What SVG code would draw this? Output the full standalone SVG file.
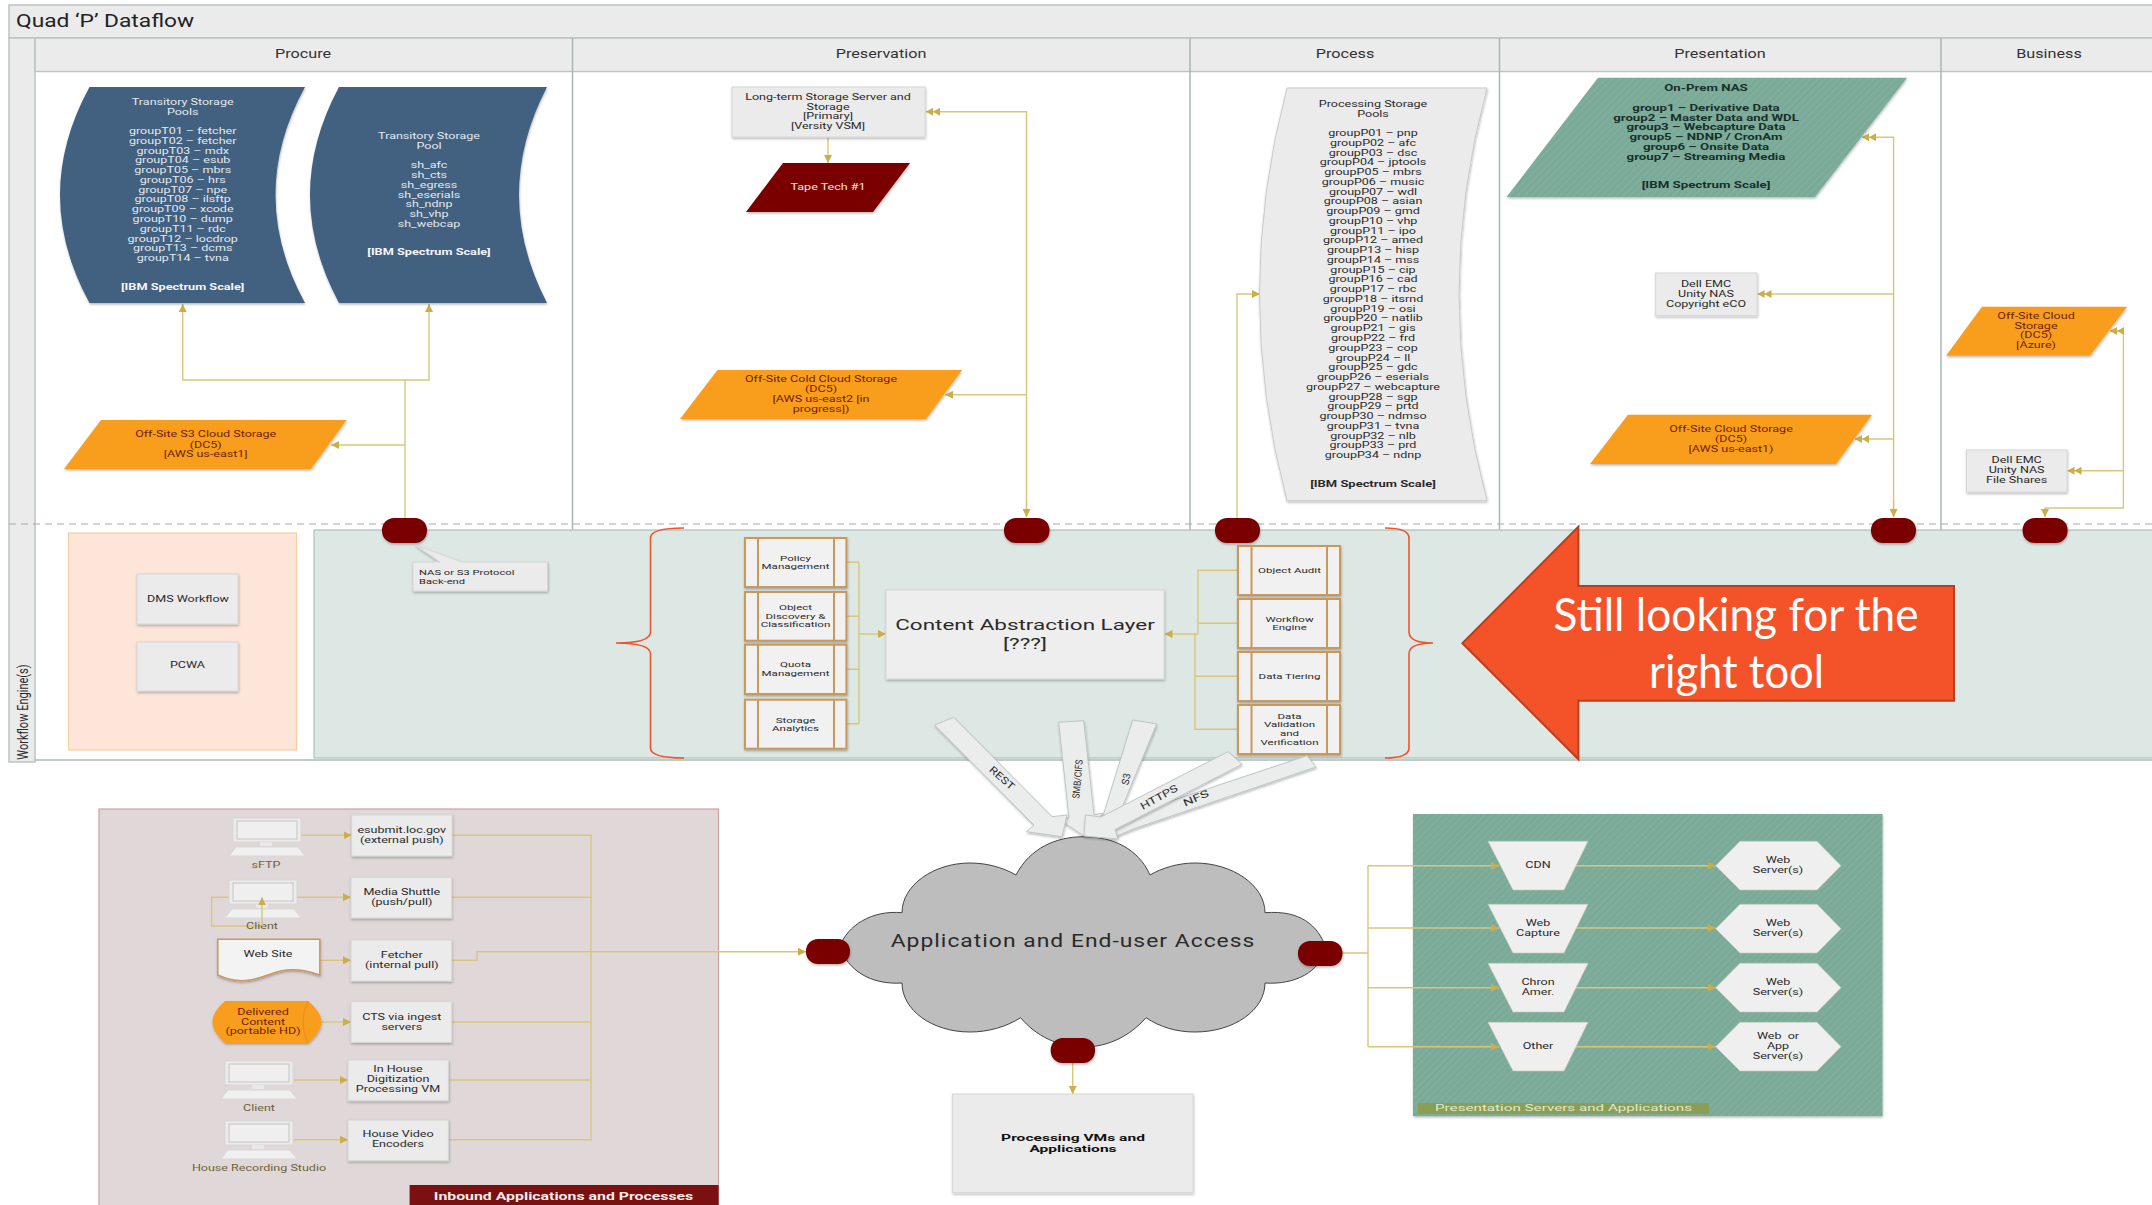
<svg xmlns="http://www.w3.org/2000/svg" width="2152" height="1205" viewBox="0 0 2152 1205">
<style>
text{font-family:Roboto,"Open Sans","Liberation Sans",sans-serif;text-anchor:middle;dominant-baseline:central;font-size:8.2px;fill:#2a2a2a}
.ss{font-size:7px}
.l{text-anchor:start}
.b{font-weight:700}
.w{fill:#e4e9ee}
.wb{fill:#f4f6f8;font-weight:700}
.o{fill:#6e1f08}
.h{font-size:12px;fill:#333}
.band{fill:#ebebeb;stroke:#bcc4c4;stroke-width:1.5}
.div{stroke:#aab6b6;stroke-width:1.5;fill:none}
.box{fill:#ebebeb;stroke:#d6d6d6;stroke-width:1;filter:url(#sh)}
.sm{fill:#f99d1f;filter:url(#sh)}
.pill{fill:#7a0000;filter:url(#sh)}
.blue{fill:#42617f;filter:url(#sh)}
.pr{fill:#f1f1f1;stroke:#c9985a;stroke-width:2;filter:url(#sh)}
.prl{stroke:#c9985a;stroke-width:2;fill:none}
.c{fill:none;stroke:#d9c67a;stroke-width:1.4}
.ca{fill:none;stroke:#d9c67a;stroke-width:1.4;marker-end:url(#a)}
.cd{fill:none;stroke:#d9c67a;stroke-width:1.4;marker-end:url(#d)}
.brace{fill:none;stroke:#f0542d;stroke-width:1.6}
.blk{fill:#ebeded;stroke:#bfc5c5;stroke-width:1;filter:url(#sh)}
.sv{fill:#efefef;stroke:#c9c9b9;stroke-width:.6}
.lab{fill:#6d6238}
.p{font-size:10px}
</style>
<defs>
<filter id="sh" x="-10%" y="-10%" width="125%" height="125%"><feDropShadow dx="0.5" dy="1.5" stdDeviation="1" flood-color="#000" flood-opacity=".28"/></filter>
<marker id="a" markerUnits="userSpaceOnUse" markerWidth="9" markerHeight="8" refX="8" refY="4" orient="auto-start-reverse"><path d="M0 0L8 4L0 8Z" fill="#c9ae4a"/></marker>
<marker id="d" markerUnits="userSpaceOnUse" markerWidth="15" markerHeight="8" refX="14" refY="4" orient="auto-start-reverse"><path d="M0 0L7 4L0 8ZM7 0L14 4L7 8Z" fill="#c9ae4a"/></marker>
<pattern id="st" width="5" height="5" patternUnits="userSpaceOnUse" patternTransform="rotate(45)"><rect width="5" height="5" fill="#7aa998"/><rect width="2.400" height="5" fill="#7fae9d"/></pattern>
<g id="pc"><rect x="4" y="0" width="68" height="24" fill="#ececec" stroke="#d6d6d6"/><rect x="8" y="3" width="60" height="18" fill="#efefef" stroke="#c4c4c4"/><rect x="31" y="24" width="12" height="4" fill="#e8e8e8"/><path d="M7 29H69L76 38H0Z" fill="#f0f0f0" stroke="#d8d8d8"/></g>
</defs>
<rect width="2152" height="1205" fill="#fff"/>

<g id="swimlanes">
<rect class="band" x="9" y="5" width="2150" height="33"/>
<rect class="band" x="9" y="38" width="26" height="724"/>
<rect class="band" x="35" y="38" width="2120" height="33.500"/>
<path class="div" d="M572.500 38V530M1190 38V530M1499.500 38V530M1941 38V530"/>
<path d="M9 524H2152" fill="none" stroke="#a9a9a9" stroke-width="1" stroke-dasharray="7 5"/>
<text class="l" transform="translate(16 0) scale(1.3 1)" y="21" style="font-size:17.500px;fill:#222">Quad ‘P’ Dataflow</text>
<text class="h" transform="translate(303 0) scale(1.35 1)" y="53.500">Procure</text>
<text class="h" transform="translate(881 0) scale(1.35 1)" y="53.500">Preservation</text>
<text class="h" transform="translate(1345 0) scale(1.35 1)" y="53.500">Process</text>
<text class="h" transform="translate(1720 0) scale(1.35 1)" y="53.500">Presentation</text>
<text class="h" transform="translate(2049 0) scale(1.35 1)" y="53.500">Business</text>
<text transform="translate(23 712) rotate(-90) scale(.92 1.25)" style="font-size:12px">Workflow Engine(s)</text>
</g>

<g id="workflow-panels">
<rect x="68.500" y="533" width="228" height="217" fill="#fde6d9" stroke="#f3cfa0" stroke-width="1.200"/>
<rect x="314" y="530" width="1840" height="228" fill="#dde7e3" stroke="#aebfb9" stroke-width="1.200"/>
<path d="M35 760H2152" stroke="#a9bdb6" stroke-width="1.500" fill="none"/>
</g>

<g id="inbound-panel">
<rect x="99" y="809" width="619.500" height="400" fill="#e0d8d8" stroke="#cf9f9f" stroke-width="1.200"/>
<rect x="409.600" y="1185" width="309" height="20" fill="#7a1010"/>
<text class="b" transform="translate(563.500 0) scale(1.51 1)" y="1196" style="font-size:10.500px;fill:#f3ecec">Inbound Applications and Processes</text>
</g>

<g id="presentation-panel">
<rect x="1413" y="814" width="469.500" height="302" fill="url(#st)" filter="url(#sh)"/>
<rect x="1418" y="1103" width="291" height="11" fill="#8a9f55"/>
<text class="l" transform="translate(1435 0) scale(1.6 1)" y="1108" style="font-size:9.500px;fill:#e0e8cb">Presentation Servers and Applications</text>
</g>

<g id="connectors">
<path class="ca" d="M405 518V380H182.700V304"/>
<path class="ca" d="M405 380H429V304"/>
<path class="ca" d="M405 445H331"/>
<path class="cd" d="M1026.500 517V111.700H926"/>
<path d="M1026.500 500V517" class="ca"/>
<path class="ca" d="M1026.500 394.700H945"/>
<path class="ca" d="M828 137V163"/>
<path class="ca" d="M1237 518V294H1260"/>
<path class="cd" d="M1893.600 517V137.300H1862"/>
<path class="ca" d="M1893.600 500V517"/>
<path class="cd" d="M1893.600 294H1757.500"/>
<path class="cd" d="M1893.600 439H1855"/>
<path class="cd" d="M2045 517V508H2123.400V331H2110"/>
<path class="ca" d="M2045 510V517"/>
<path class="cd" d="M2123.400 470.700H2067.500"/>
<path class="c" d="M846.500 562.300H859M846.500 616.300H859M846.500 669.300H859M846.500 723.700H859M859 562.300V723.700"/>
<path class="ca" d="M859 634H886"/>
<path class="c" d="M1238 570.300H1198V634M1238 623.300H1198M1238 676.300H1195M1238 729.300H1195V634"/>
<path class="ca" d="M1198 634H1164.500"/>
<path class="ca" d="M300 835.300H351.600"/>
<path class="ca" d="M296.500 897.300H351"/>
<path class="ca" d="M320 960.300H351"/>
<path class="ca" d="M321 1022H351"/>
<path class="ca" d="M293 1080H348"/>
<path class="ca" d="M293 1139.700H348"/>
<path class="c" d="M452 835.300H591V1139.700H448.400M451.600 897.300H591M451.600 1022H591M448.400 1080H591"/>
<path class="ca" d="M451.600 960.300H477V951.700H806"/>
<path class="c" d="M262 926H211.600V897.300H262"/>
<path class="ca" d="M1072.700 1063V1094"/>
<path class="c" d="M1342 953H1368M1368 865.700V1046.700"/>
<path class="ca" d="M1368 865.700H1499"/>
<path class="ca" d="M1368 928H1499"/>
<path class="ca" d="M1368 987.700H1499"/>
<path class="ca" d="M1368 1046.700H1499"/>
<path class="ca" d="M1575 865.700H1715.700"/>
<path class="ca" d="M1575 928H1715.700"/>
<path class="ca" d="M1575 987.700H1715.700"/>
<path class="ca" d="M1575 1046.700H1715.700"/>
</g>

<g id="pool-t1"><path class="blue" d="M89.500 87H305Q246 195 305 303H89.500Q30.500 195 89.500 87Z"/>
<text class="w" transform="translate(182.700 0) scale(1.53 1)"><tspan x="0" y="102">Transitory Storage</tspan><tspan x="0" y="111.500">Pools</tspan><tspan x="0" y="131">groupT01 – fetcher</tspan><tspan x="0" y="140.800">groupT02 – fetcher</tspan><tspan x="0" y="150.500">groupT03 – mdx</tspan><tspan x="0" y="160.300">groupT04 – esub</tspan><tspan x="0" y="170.100">groupT05 – mbrs</tspan><tspan x="0" y="179.900">groupT06 – hrs</tspan><tspan x="0" y="189.600">groupT07 – npe</tspan><tspan x="0" y="199.400">groupT08 – ilsftp</tspan><tspan x="0" y="209.200">groupT09 – xcode</tspan><tspan x="0" y="219">groupT10 – dump</tspan><tspan x="0" y="228.700">groupT11 – rdc</tspan><tspan x="0" y="238.500">groupT12 – locdrop</tspan><tspan x="0" y="248.300">groupT13 – dcms</tspan><tspan x="0" y="258">groupT14 – tvna</tspan></text>
<text class="wb" transform="translate(182.700 0) scale(1.55 1)" y="287">[IBM Spectrum Scale]</text></g>

<g id="pool-t2"><path class="blue" d="M339 87H547Q491 195 547 303H339Q281 195 339 87Z"/>
<text class="w" transform="translate(429 0) scale(1.53 1)"><tspan x="0" y="136">Transitory Storage</tspan><tspan x="0" y="145.500">Pool</tspan><tspan x="0" y="165.400">sh_afc</tspan><tspan x="0" y="175">sh_cts</tspan><tspan x="0" y="185">sh_egress</tspan><tspan x="0" y="194.600">sh_eserials</tspan><tspan x="0" y="204.300">sh_ndnp</tspan><tspan x="0" y="214.200">sh_vhp</tspan><tspan x="0" y="224">sh_webcap</tspan></text>
<text class="wb" transform="translate(429 0) scale(1.55 1)" y="252.500">[IBM Spectrum Scale]</text></g>

<g id="s3-cloud"><path class="sm" d="M101 420H346.600L311 469H64Z"/>
<text class="o" transform="translate(205.700 0) scale(1.53 1)"><tspan x="0" y="434">Off-Site S3 Cloud Storage</tspan><tspan x="0" y="444.600">(DC5)</tspan><tspan x="0" y="454">[AWS us-east1]</tspan></text></g>

<g id="long-term"><rect class="box" x="732" y="87" width="193" height="50"/>
<text transform="translate(828 0) scale(1.53 1)"><tspan x="0" y="97">Long-term Storage Server and</tspan><tspan x="0" y="106.500">Storage</tspan><tspan x="0" y="116">[Primary]</tspan><tspan x="0" y="126">[Versity VSM]</tspan></text></g>

<g id="tape"><path d="M783 163H910L873 212H746Z" fill="#7a0000" filter="url(#sh)"/><text transform="translate(828 0) scale(1.53 1)" y="187" style="fill:#f0e4e4">Tape Tech #1</text></g>

<g id="cold-cloud"><path class="sm" d="M717.500 370H962L926 419H680Z"/>
<text class="o" transform="translate(821 0) scale(1.53 1)"><tspan x="0" y="379">Off-Site Cold Cloud Storage</tspan><tspan x="0" y="389">(DC5)</tspan><tspan x="0" y="399">[AWS us-east2 [in</tspan><tspan x="0" y="409">progress])</tspan></text></g>

<g id="pool-p"><path d="M1287 88H1487Q1431 294 1487 500.700H1287Q1232 294 1287 88Z" fill="#ebebeb" stroke="#cacaca" filter="url(#sh)"/>
<text transform="translate(1373 0) scale(1.53 1)"><tspan x="0" y="103.700">Processing Storage</tspan><tspan x="0" y="113.700">Pools</tspan><tspan x="0" y="133">groupP01 – pnp</tspan><tspan x="0" y="142.800">groupP02 – afc</tspan><tspan x="0" y="152.500">groupP03 – dsc</tspan><tspan x="0" y="162.300">groupP04 – jptools</tspan><tspan x="0" y="172">groupP05 – mbrs</tspan><tspan x="0" y="181.800">groupP06 – music</tspan><tspan x="0" y="191.600">groupP07 – wdl</tspan><tspan x="0" y="201.300">groupP08 – asian</tspan><tspan x="0" y="211.100">groupP09 – gmd</tspan><tspan x="0" y="220.800">groupP10 – vhp</tspan><tspan x="0" y="230.600">groupP11 – ipo</tspan><tspan x="0" y="240.400">groupP12 – amed</tspan><tspan x="0" y="250.100">groupP13 – hisp</tspan><tspan x="0" y="259.900">groupP14 – mss</tspan><tspan x="0" y="269.600">groupP15 – cip</tspan><tspan x="0" y="279.400">groupP16 – cad</tspan><tspan x="0" y="289.200">groupP17 – rbc</tspan><tspan x="0" y="298.900">groupP18 – itsrnd</tspan><tspan x="0" y="308.700">groupP19 – osi</tspan><tspan x="0" y="318.400">groupP20 – natlib</tspan><tspan x="0" y="328.200">groupP21 – gis</tspan><tspan x="0" y="338">groupP22 – frd</tspan><tspan x="0" y="347.700">groupP23 – cop</tspan><tspan x="0" y="357.500">groupP24 – ll</tspan><tspan x="0" y="367.200">groupP25 – gdc</tspan><tspan x="0" y="377">groupP26 – eserials</tspan><tspan x="0" y="386.800">groupP27 – webcapture</tspan><tspan x="0" y="396.500">groupP28 – sgp</tspan><tspan x="0" y="406.300">groupP29 – prtd</tspan><tspan x="0" y="416">groupP30 – ndmso</tspan><tspan x="0" y="425.800">groupP31 – tvna</tspan><tspan x="0" y="435.600">groupP32 – nlb</tspan><tspan x="0" y="445.300">groupP33 – prd</tspan><tspan x="0" y="455">groupP34 – ndnp</tspan></text>
<text class="b" transform="translate(1373 0) scale(1.58 1)" y="484">[IBM Spectrum Scale]</text></g>

<g id="on-prem-nas"><path d="M1598 77.700H1907L1815 197H1506.600Z" fill="url(#st)" filter="url(#sh)"/>
<text class="b" transform="translate(1706 0) scale(1.62 1)" style="fill:#18302a"><tspan x="0" y="88">On-Prem NAS</tspan><tspan x="0" y="107.700">group1 – Derivative Data</tspan><tspan x="0" y="117.700">group2 – Master Data and WDL</tspan><tspan x="0" y="127.300">group3 – Webcapture Data</tspan><tspan x="0" y="137.300">group5 – NDNP / CronAm</tspan><tspan x="0" y="147">group6 – Onsite Data</tspan><tspan x="0" y="156.700">group7 – Streaming Media</tspan><tspan x="0" y="185.300">[IBM Spectrum Scale]</tspan></text></g>

<g id="dell-eco"><rect class="box" x="1655.700" y="273" width="101.300" height="42.700"/>
<text transform="translate(1706 0) scale(1.53 1)"><tspan x="0" y="284">Dell EMC</tspan><tspan x="0" y="294">Unity NAS</tspan><tspan x="0" y="304">Copyright eCO</tspan></text></g>

<g id="aws-cloud"><path class="sm" d="M1628 414.700H1872L1836 464H1590Z"/>
<text class="o" transform="translate(1731 0) scale(1.53 1)"><tspan x="0" y="429">Off-Site Cloud Storage</tspan><tspan x="0" y="438.500">(DC5)</tspan><tspan x="0" y="448.700">[AWS us-east1)</tspan></text></g>

<g id="azure-cloud"><path class="sm" d="M1982 306.700H2127L2090 355.700H1946Z"/>
<text class="o" transform="translate(2036 0) scale(1.53 1)"><tspan x="0" y="315.700">Off-Site Cloud</tspan><tspan x="0" y="326">Storage</tspan><tspan x="0" y="335.300">(DC5)</tspan><tspan x="0" y="345">[Azure)</tspan></text></g>

<g id="dell-shares"><rect class="box" x="1966.500" y="450" width="100.500" height="42"/>
<text transform="translate(2016.600 0) scale(1.53 1)"><tspan x="0" y="460">Dell EMC</tspan><tspan x="0" y="470.300">Unity NAS</tspan><tspan x="0" y="480">File Shares</tspan></text></g>

<g id="pills">
<rect class="pill" x="382" y="518" width="45" height="25" rx="12"/>
<rect class="pill" x="1004" y="518" width="45.500" height="25" rx="12"/>
<rect class="pill" x="1215" y="518" width="45" height="25" rx="12"/>
<rect class="pill" x="1871" y="518" width="45" height="25" rx="12"/>
<rect class="pill" x="2022.600" y="518" width="45" height="25" rx="12"/>
</g>

<g id="callout"><path d="M415 545L462 562H547.500V591H413V562H440Z" fill="#ebebeb" stroke="#d6d6d6" filter="url(#sh)"/>
<text class="l ss" transform="translate(419 0) scale(1.6 1)"><tspan x="0" y="572.300">NAS or S3 Protocol</tspan><tspan x="0" y="580.700">Back-end</tspan></text></g>

<g id="dms"><rect class="box" x="137" y="574" width="101" height="50"/><text transform="translate(188 0) scale(1.53 1)" y="599">DMS Workflow</text></g>
<g id="pcwa"><rect class="box" x="137" y="642" width="101" height="49"/><text transform="translate(187.500 0) scale(1.53 1)" y="665">PCWA</text></g>

<g id="braces">
<path class="brace" d="M684 528Q650.500 528 650.500 538V632Q650.500 643 616 643Q650.500 643 650.500 654V748Q650.500 758 684 758"/>
<path class="brace" d="M1385 528Q1409 528 1409 538V632Q1409 643 1433 643Q1409 643 1409 654V748Q1409 758 1385 758"/>
</g>

<g id="policy"><rect class="pr" x="745" y="538" width="101.400" height="49"/><path class="prl" d="M758 538V587M834 538V587"/><text class="ss" transform="translate(795.500 0) scale(1.65 1)"><tspan x="0" y="558">Policy</tspan><tspan x="0" y="566.300">Management</tspan></text></g>
<g id="discovery"><rect class="pr" x="745" y="592" width="101.400" height="48.700"/><path class="prl" d="M758 592V640.700M834 592V640.700"/><text class="ss" transform="translate(795.500 0) scale(1.65 1)"><tspan x="0" y="606.700">Object</tspan><tspan x="0" y="615.700">Discovery &amp;</tspan><tspan x="0" y="624.300">Classification</tspan></text></g>
<g id="quota"><rect class="pr" x="745" y="644.700" width="101.400" height="49.300"/><path class="prl" d="M758 644.700V694M834 644.700V694"/><text class="ss" transform="translate(795.500 0) scale(1.65 1)"><tspan x="0" y="664.300">Quota</tspan><tspan x="0" y="672.700">Management</tspan></text></g>
<g id="analytics"><rect class="pr" x="745" y="699.700" width="101.400" height="49"/><path class="prl" d="M758 699.700V748.700M834 699.700V748.700"/><text class="ss" transform="translate(795.500 0) scale(1.65 1)"><tspan x="0" y="719.700">Storage</tspan><tspan x="0" y="727.700">Analytics</tspan></text></g>

<g id="audit"><rect class="pr" x="1238" y="546" width="102" height="49"/><path class="prl" d="M1251.500 546V595M1327 546V595"/><text class="ss" transform="translate(1289.500 0) scale(1.65 1)" y="570.300">Object Audit</text></g>
<g id="wfengine"><rect class="pr" x="1238" y="599" width="102" height="49"/><path class="prl" d="M1251.500 599V648M1327 599V648"/><text class="ss" transform="translate(1289.500 0) scale(1.65 1)"><tspan x="0" y="619">Workflow</tspan><tspan x="0" y="627.300">Engine</tspan></text></g>
<g id="tiering"><rect class="pr" x="1238" y="652" width="102" height="49"/><path class="prl" d="M1251.500 652V701M1327 652V701"/><text class="ss" transform="translate(1289.500 0) scale(1.65 1)" y="676">Data Tiering</text></g>
<g id="validation"><rect class="pr" x="1238" y="705" width="102" height="49"/><path class="prl" d="M1251.500 705V754M1327 705V754"/><text class="ss" transform="translate(1289.500 0) scale(1.65 1)"><tspan x="0" y="716">Data</tspan><tspan x="0" y="724.300">Validation</tspan><tspan x="0" y="733.300">and</tspan><tspan x="0" y="742">Verification</tspan></text></g>

<g id="cal"><rect class="box" x="886" y="590" width="278" height="89" style="fill:#eeeeee"/>
<text transform="translate(1025 0) scale(1.45 1)" style="font-size:15.500px"><tspan x="0" y="624.500">Content Abstraction Layer</tspan><tspan x="0" y="643">[???]</tspan></text></g>

<g id="big-arrow"><path d="M1462.400 643.300L1578.400 526.700V586H1954V700.700H1578.400V759.300Z" fill="#f4532a" stroke="#b83f1e" stroke-width="2"/>
<text x="1736" y="630.500" textLength="365" lengthAdjust="spacingAndGlyphs" style="font-family:Lato,'Open Sans',sans-serif;font-size:46px;fill:#fff;dominant-baseline:alphabetic">Still looking for the</text>
<text x="1736.600" y="688" textLength="175" lengthAdjust="spacingAndGlyphs" style="font-family:Lato,'Open Sans',sans-serif;font-size:46px;fill:#fff;dominant-baseline:alphabetic">right tool</text></g>

<g id="cloud"><path d="M1016 875C1030 848 1056 836.700 1084 836.700C1112 836.700 1138 848 1150 875C1162 868 1178 863 1195 863C1232 863 1265 885 1265 912.700C1300 910 1318 925 1326 948C1320 972 1295 985 1265 983C1265 1010 1234 1032 1195 1032C1176 1032 1160 1027 1146 1017.700C1130 1036 1108 1047 1084 1047C1058 1047 1036 1036 1020.600 1017.700C1006 1027 988 1032 970 1032C932 1032 902 1010 902 983C870 985 848 970 839.500 946.700C848 925 872 910 902 912.700C902 885 934 863 970 863C986 863 1002 867 1016 875Z" fill="#bdbdbd" stroke="#444" stroke-width="1"/>
<text transform="translate(1073 0) scale(1.27 1)" y="941" style="font-size:18px;letter-spacing:.8px">Application and End-user Access</text></g>

<g id="cloud-pills">
<rect class="pill" x="806" y="939" width="44" height="25" rx="12"/>
<rect class="pill" x="1298" y="941" width="44.500" height="25" rx="12"/>
<rect class="pill" x="1050.700" y="1038" width="44.300" height="25" rx="12"/>
</g>

<g id="protocol-arrows">
<polygon class="blk" points="1132.700,720 1156.600,724 1121,810 1112,812 1090,836 1096,814 1103,816"/>
<polygon class="blk" points="1058.700,722.300 1083.700,720.700 1094,815 1103,813 1084,836 1060,820 1069,818"/>
<polygon class="blk" points="934.700,725 953.600,717.300 1052,816.700 1067,815 1062,836.700 1026.500,831.700 1034,825"/>
<polygon class="blk" points="1307,755.700 1316,767 1139,827 1131,830 1112,838 1118,821 1138,812"/>
<polygon class="blk" points="1228,751.700 1242,764.300 1115,829.500 1118,839 1084,836 1085.500,815 1101,817"/>
<text class="p" transform="translate(1002 778) rotate(42)" textLength="30" lengthAdjust="spacingAndGlyphs">REST</text>
<text class="p" transform="translate(1077.500 779) rotate(-85)" textLength="39" lengthAdjust="spacingAndGlyphs">SMB/CIFS</text>
<text class="p" transform="translate(1126 779) rotate(-78)">S3</text>
<text class="p" transform="translate(1159 797) rotate(-29)" textLength="41" lengthAdjust="spacingAndGlyphs">HTTPS</text>
<text class="p" transform="translate(1196 798) rotate(-24)" textLength="27" lengthAdjust="spacingAndGlyphs">NFS</text>
</g>

<g id="processing-vms"><rect class="box" x="952.600" y="1094" width="240.400" height="98.700"/>
<text class="b" transform="translate(1073 0) scale(1.73 1)" style="font-size:9px;fill:#111"><tspan x="0" y="1137">Processing VMs and</tspan><tspan x="0" y="1148">Applications</tspan></text></g>

<g id="sftp"><use href="#pc" x="229" y="818"/><text class="lab" transform="translate(266 0) scale(1.53 1)" y="865">sFTP</text></g>
<g id="client1"><use href="#pc" x="225" y="880"/><text class="lab" transform="translate(262 0) scale(1.53 1)" y="926">Client</text></g>
<g id="client2"><use href="#pc" x="221" y="1061"/><text class="lab" transform="translate(259 0) scale(1.53 1)" y="1108.700">Client</text></g>
<g id="studio"><use href="#pc" x="221" y="1121"/><text class="lab" transform="translate(259 0) scale(1.53 1)" y="1168.300">House Recording Studio</text></g>
<g id="client-loop"><path class="ca" d="M262 926V897.300"/></g>

<g id="website"><path d="M217.800 939.300H319.800V975C300 968 285 968 268 975C250 982 235 983 217.800 975Z" fill="#f3f3f3" stroke="#c9985a" stroke-width="1.500" filter="url(#sh)"/><text transform="translate(268 0) scale(1.53 1)" y="954">Web Site</text></g>
<g id="delivered"><path d="M225 1001H308Q321.400 1012 321.400 1022Q321.400 1032 308 1043H225Q212.400 1032 212.400 1022Q212.400 1012 225 1001Z" fill="#f99d1f" filter="url(#sh)"/><path d="M308 1001Q298 1022 308 1043" fill="none" stroke="#e58e18"/>
<text class="o" transform="translate(263 0) scale(1.53 1)"><tspan x="0" y="1011.700">Delivered</tspan><tspan x="0" y="1021.700">Content</tspan><tspan x="0" y="1031.300">(portable HD)</tspan></text></g>

<g id="esubmit"><rect class="box" x="351.600" y="815" width="100.400" height="41"/><text transform="translate(401.800 0) scale(1.53 1)"><tspan x="0" y="830">esubmit.loc.gov</tspan><tspan x="0" y="840">(external push)</tspan></text></g>
<g id="shuttle"><rect class="box" x="351" y="877.300" width="100.600" height="40.700"/><text transform="translate(401.800 0) scale(1.53 1)"><tspan x="0" y="892.300">Media Shuttle</tspan><tspan x="0" y="901.700">(push/pull)</tspan></text></g>
<g id="fetcher"><rect class="box" x="351" y="940" width="100.600" height="41"/><text transform="translate(401.800 0) scale(1.53 1)"><tspan x="0" y="955.300">Fetcher</tspan><tspan x="0" y="965">(internal pull)</tspan></text></g>
<g id="cts"><rect class="box" x="351" y="1001.700" width="100.600" height="40.600"/><text transform="translate(401.800 0) scale(1.53 1)"><tspan x="0" y="1016.700">CTS via ingest</tspan><tspan x="0" y="1026.700">servers</tspan></text></g>
<g id="inhouse"><rect class="box" x="348" y="1060" width="100.400" height="40.700"/><text transform="translate(398 0) scale(1.53 1)"><tspan x="0" y="1069.300">In House</tspan><tspan x="0" y="1079.300">Digitization</tspan><tspan x="0" y="1089">Processing VM</tspan></text></g>
<g id="encoders"><rect class="box" x="348" y="1120" width="100.400" height="40.700"/><text transform="translate(398 0) scale(1.53 1)"><tspan x="0" y="1134.300">House Video</tspan><tspan x="0" y="1144">Encoders</tspan></text></g>

<g id="cdn"><path class="sv" d="M1488 841.300H1588L1564 890H1513Z"/><text transform="translate(1538 0) scale(1.53 1)" y="865">CDN</text></g>
<g id="webcapture"><path class="sv" d="M1488 904.300H1588L1564 953H1513Z"/><text transform="translate(1538 0) scale(1.53 1)"><tspan x="0" y="923.300">Web</tspan><tspan x="0" y="933">Capture</tspan></text></g>
<g id="chron"><path class="sv" d="M1488 963.300H1588L1564 1012H1513Z"/><text transform="translate(1538 0) scale(1.53 1)"><tspan x="0" y="982.300">Chron</tspan><tspan x="0" y="992">Amer.</tspan></text></g>
<g id="other"><path class="sv" d="M1488 1022.300H1588L1564 1071H1513Z"/><text transform="translate(1538 0) scale(1.53 1)" y="1046">Other</text></g>
<g id="hex1"><path class="sv" d="M1715.700 865.700L1740 841.300H1817L1841 865.700L1817 890H1740Z"/><text transform="translate(1778 0) scale(1.53 1)"><tspan x="0" y="860.300">Web</tspan><tspan x="0" y="870">Server(s)</tspan></text></g>
<g id="hex2"><path class="sv" d="M1715.700 928.700L1740 904.300H1817L1841 928.700L1817 953H1740Z"/><text transform="translate(1778 0) scale(1.53 1)"><tspan x="0" y="923.300">Web</tspan><tspan x="0" y="933">Server(s)</tspan></text></g>
<g id="hex3"><path class="sv" d="M1715.700 987.700L1740 963.300H1817L1841 987.700L1817 1012H1740Z"/><text transform="translate(1778 0) scale(1.53 1)"><tspan x="0" y="982.300">Web</tspan><tspan x="0" y="992">Server(s)</tspan></text></g>
<g id="hex4"><path class="sv" d="M1715.700 1046.700L1740 1022.300H1817L1841 1046.700L1817 1071H1740Z"/><text transform="translate(1778 0) scale(1.53 1)"><tspan x="0" y="1036" xml:space="preserve">Web  or</tspan><tspan x="0" y="1046.300">App</tspan><tspan x="0" y="1055.700">Server(s)</tspan></text></g>
</svg>
